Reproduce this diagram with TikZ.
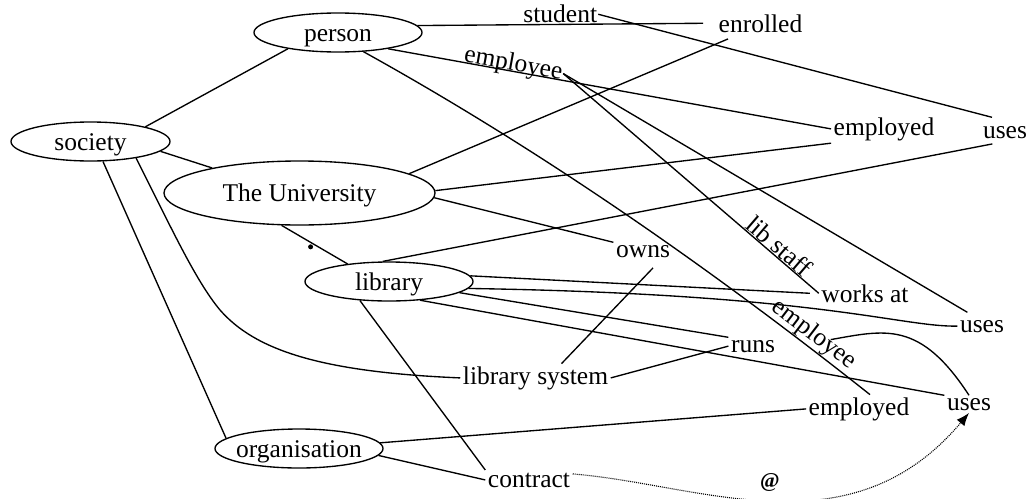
\documentclass[tikz,border=0pt]{standalone}
\usepackage{fontspec}
\setmainfont{Liberation Serif}
\usetikzlibrary{shapes.geometric,arrows.meta}

\begin{document}
\begin{tikzpicture}[x=1pt,y=-1pt,
  font=\fontsize{25.5pt}{30pt}\selectfont,
  line width=1.35pt,
  concept/.style={ellipse, draw, inner sep=0pt, text height=17pt, text depth=0pt, minimum height=39pt},
  word/.style={inner sep=2pt, anchor=base},
  rel/.style={inner sep=0.5pt, above},
  dotmark/.style={circle, fill, inner sep=0pt, minimum size=5pt},
  later/.style={dash pattern=on 1pt off 1pt, line width=1.1pt},
]
\useasboundingbox (0,0) rectangle (1033,498);
\clip (0,0) rectangle (1033,498);

% concepts
\node[concept, minimum width=168pt] (person) at (338,32.5) {person};
\node[concept, minimum width=159pt] (society) at (90.5,141.5) {society};
\node[concept, minimum width=271pt, minimum height=64pt] (univ) at (299.5,193) {The University};
\node[concept, minimum width=168pt] (library) at (389,281.5) {library};
\node[concept, minimum width=168pt] (org) at (299,448.5) {\makebox[0pt]{organisation}};

% relation words
\node[word] (enrolled)  at (760.5,32) {enrolled};
\node[word] (employedT) at (884,135)  {employed};
\node[word] (usesT)     at (1005,138) {uses};
\node[word] (owns)      at (643,257)  {owns};
\node[word] (worksat)   at (865,302)  {works at};
\node[word] (usesM)     at (982,332)  {uses};
\node[word] (runs)      at (753,352)  {runs};
\node[word] (libsys)    at (535.5,384) {library system};
\node[word] (employedL) at (859,415)  {employed};
\node[word] (usesL)     at (969,410)  {uses};
\node[word] (contract)  at (529,487)  {contract};

% person
\draw (person.5) -- node[rel, pos=0.5] (student) {student} ([xshift=-13pt]enrolled.west);
\draw (student.east) -- ([shift={(-13,-6)}]usesT.north);
\draw (person.-18) -- node[rel, sloped, pos=0.28, above=-6pt] (employeeT) {employee} (employedT.west);
\draw (employeeT.east) -- node[rel, sloped, pos=0.82] {lib staff} (worksat.west);
\draw (employeeT.east) -- ([shift={(10,-5)}]usesM.north west);
\draw (person.-37) .. controls (530,144) and (699,259) .. ([xshift=11pt]employedL.north)
  node[rel, sloped, pos=0.875] (employeeL) {employee};
\draw ([shift={(17,5)}]employeeL.center) .. controls (885,330) and (920,320) .. (usesL.north);

% society
\draw (society.15) -- (person.-162);
\draw (society.-8) -- (univ.164);
\draw (society.-58) -- (org.172);
\draw (society.-20) .. controls (170,225) and (195,280) .. (220,310)
  .. controls (255,350) and (320,372) .. (libsys.west);

% the university
\draw (univ.10) -- ([shift={(12,4)}]enrolled.south west);
\draw (univ.1) -- (employedT.south west);
\draw (univ.-2) -- (owns.north west);
\draw (univ.-119) -- node[dotmark, pos=0.44, yshift=-4.5pt] {} (library.157);

% library
\draw (library.107) -- ([shift={(12,3)}]usesT.south west);
\draw (library.4) -- ([xshift=-9pt]worksat.west);
\draw (library.-5) .. controls (820,294) and (900,327) .. (usesM.west);
\draw (library.-9) -- (runs.north west);
\draw (library.-31) -- (usesL.north west);
\draw (library.-147) -- (contract.north west);
\draw ([shift={(10,8)}]owns.south) -- ([xshift=26pt]libsys.north);
\draw (libsys.east) -- (runs.west);

% organisation
\draw (org.4) -- (employedL.west);
\draw (org.-5) -- (contract.west);

% contract
\draw[later, -{Latex[length=13pt,width=10pt]}] ([yshift=6pt]contract.east)
  .. controls (700,484) and (850,554) .. (usesL.south)
  node[pos=0.49, above=5pt, font=\fontsize{21pt}{24pt}\selectfont\bfseries] {@};
\end{tikzpicture}
\end{document}
